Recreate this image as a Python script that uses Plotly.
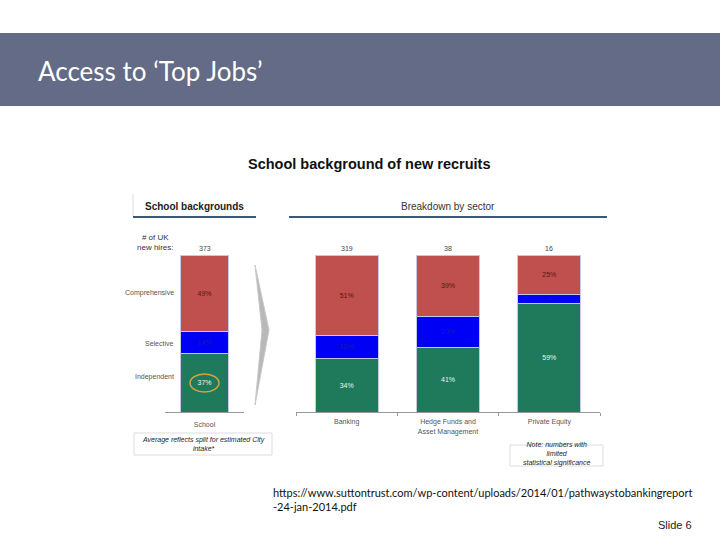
from plotly import graph_objects as go

# data
school_cat = ["School"]
sector_cat = ["Banking", "Hedge Funds and<br>Asset Management", "Private Equity"]
segments = ["Independent", "Selective", "Comprehensive"]

school_vals = {"Independent": [37], "Selective": [14], "Comprehensive": [49]}
sector_vals = {
    "Independent": [34, 41, 69],
    "Selective": [15, 20, 6],
    "Comprehensive": [51, 39, 25],
}
# labels as printed on the slide (PE green labelled 59%)
school_text = {"Independent": ["37%"], "Selective": ["14%"], "Comprehensive": ["49%"]}
sector_text = {
    "Independent": ["34%", "41%", "59%"],
    "Selective": ["15%", "20%", "6%"],
    "Comprehensive": ["51%", "39%", "25%"],
}
school_hires = [373]
sector_hires = [319, 38, 16]

colors = {"Independent": "#1f7a5b", "Selective": "#0000f5", "Comprehensive": "#c0504d"}
text_colors = {"Independent": "#eef4ee", "Selective": "#1c1c9c", "Comprehensive": "#5c1414"}

W, H = 720, 540


def px(x):
    return x / W


def py(y):
    return 1 - y / H


fig = go.Figure()
for seg in segments:
    for cats, vals, txt, ax in [
        (school_cat, school_vals, school_text, "x"),
        (sector_cat, sector_vals, sector_text, "x2"),
    ]:
        fig.add_trace(
            go.Bar(
                x=cats,
                y=vals[seg],
                text=txt[seg],
                xaxis=ax,
                yaxis="y",
                width=0.62,
                marker=dict(color=colors[seg], line=dict(color="#c4c8e4", width=1)),
                textposition="inside",
                insidetextanchor="middle",
                textangle=0,
                textfont=dict(size=7, color=text_colors[seg], family="Liberation Sans"),
                showlegend=False,
                hoverinfo="skip",
            )
        )

tickfont = dict(size=7, color="#555555", family="Liberation Sans")
fig.update_layout(
    width=W,
    height=H,
    barmode="stack",
    margin=dict(l=0, r=0, t=0, b=0),
    plot_bgcolor="white",
    paper_bgcolor="white",
    xaxis=dict(
        domain=[px(165), px(244)],
        range=[-0.5, 0.5],
        showline=True,
        linecolor="#999999",
        ticks="",
        ticklabelstandoff=6,
        tickfont=tickfont,
        fixedrange=True,
    ),
    xaxis2=dict(
        domain=[px(296), px(600)],
        range=[-0.5, 2.5],
        anchor="y",
        showline=True,
        linecolor="#999999",
        ticks="outside",
        tickson="boundaries",
        ticklen=3,
        tickcolor="#999999",
        ticklabelstandoff=3,
        tickfont=tickfont,
        fixedrange=True,
    ),
    yaxis=dict(
        domain=[py(412), py(255)],
        range=[0, 100],
        visible=False,
        fixedrange=True,
    ),
)

# counts above bars
for cat, n in zip(school_cat, school_hires):
    fig.add_annotation(x=cat, y=100, xref="x", yref="y", text=str(n), showarrow=False,
                       yanchor="bottom", yshift=1, font=dict(size=7, color="#444444", family="Liberation Sans"))
for cat, n in zip(sector_cat, sector_hires):
    fig.add_annotation(x=cat, y=100, xref="x2", yref="y", text=str(n), showarrow=False,
                       yanchor="bottom", yshift=1, font=dict(size=7, color="#444444", family="Liberation Sans"))

# segment names left of school bar
for seg, yy in [("Comprehensive", 293), ("Selective", 343), ("Independent", 383)]:
    fig.add_annotation(x=px(176), y=py(yy), xref="paper", yref="paper", text=seg, showarrow=False,
                       xanchor="right", font=dict(size=7, color="#555555", family="Liberation Sans"))

# header band
fig.add_shape(type="rect", xref="paper", yref="paper", x0=0, x1=1, y0=py(106), y1=py(33),
              fillcolor="#636b86", line=dict(width=0), layer="below")

texts = [
    ("Access to ‘Top Jobs’", 36, 71, "left", dict(size=26, color="white", family="Lato")),
    ("<b>School background of new recruits</b>", 370, 164, "center",
     dict(size=14.5, color="#111111", family="Liberation Sans")),
    ("<b>School backgrounds</b>", 194, 206, "center", dict(size=10, color="#222222", family="Liberation Sans")),
    ("Breakdown by sector", 448, 206, "center", dict(size=10, color="#333333", family="Liberation Sans")),
    ("# of UK<br>new hires:", 155, 242, "center", dict(size=8, color="#333333", family="Liberation Sans")),
    ("<i>Average reflects split for estimated City<br>intake*</i>", 203, 444, "center",
     dict(size=7, color="#222222", family="Liberation Sans")),
    ("<i>Note: numbers with<br>limited<br>statistical significance</i>", 556, 454, "center",
     dict(size=7, color="#222222", family="Liberation Sans")),
    ("https://www.suttontrust.com/wp-content/uploads/2014/01/pathwaystobankingreport<br>-24-jan-2014.pdf",
     271, 499, "left", dict(size=11, color="#111111", family="Lato")),
    ("Slide 6", 694, 525, "right", dict(size=11, color="#222222", family="Liberation Sans")),
]
for t, x, y, anchor, font in texts:
    fig.add_annotation(x=px(x), y=py(y), xref="paper", yref="paper", text=t, showarrow=False,
                       xanchor=anchor, yanchor="middle", align=anchor, font=font)

# section rules
fig.add_shape(type="line", xref="paper", yref="paper", x0=px(133), x1=px(256), y0=py(217), y1=py(217),
              line=dict(color="#3d5873", width=2))
fig.add_shape(type="line", xref="paper", yref="paper", x0=px(289), x1=px(607), y0=py(217), y1=py(217),
              line=dict(color="#3d5873", width=2))
fig.add_shape(type="line", xref="paper", yref="paper", x0=px(133), x1=px(133), y0=py(216), y1=py(194),
              line=dict(color="#dddddd", width=1))

# chevron arrow
fig.add_shape(type="path", xref="paper", yref="paper",
              path=f"M {px(255)} {py(265)} L {px(269)} {py(330)} L {px(255)} {py(405)} L {px(262)} {py(330)} Z",
              fillcolor="#b8b8b8", line=dict(color="#c8c8c8", width=1))

# highlight ring around independent share
fig.add_shape(type="circle", xref="paper", yref="paper", x0=px(190), x1=px(219), y0=py(392), y1=py(374),
              line=dict(color="#d9a23a", width=1.5))

# note boxes
fig.add_shape(type="rect", xref="paper", yref="paper", x0=px(134), x1=px(272), y0=py(455), y1=py(433),
              line=dict(color="#dddddd", width=1))
fig.add_shape(type="rect", xref="paper", yref="paper", x0=px(510), x1=px(603), y0=py(466), y1=py(445),
              line=dict(color="#dddddd", width=1))

fig.write_html("out.html", config={"displayModeBar": False},
               post_script="document.body.style.margin='0';")
